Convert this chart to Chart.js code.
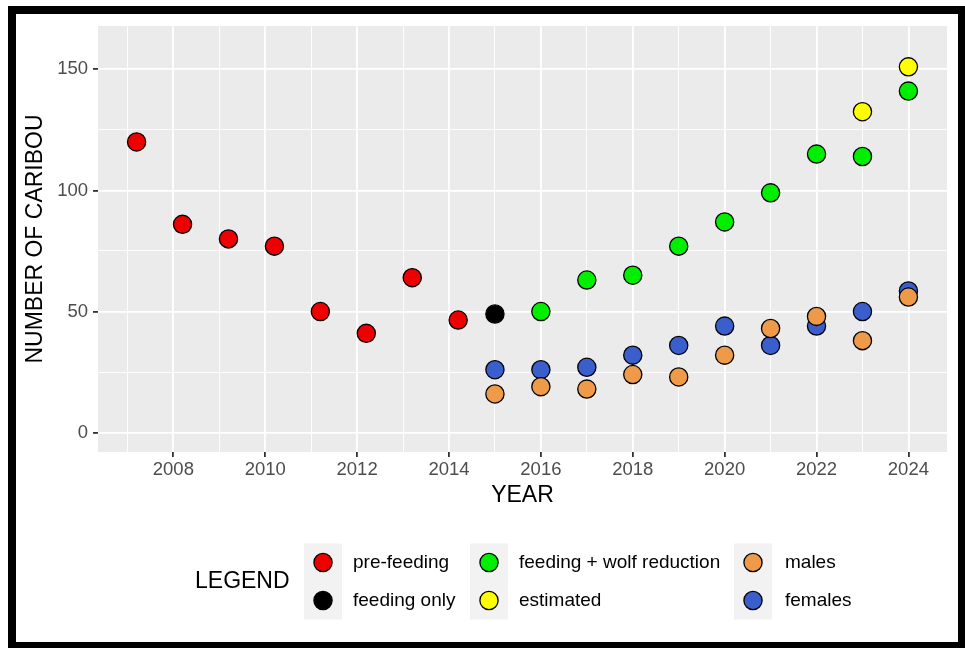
<!DOCTYPE html>
<html>
<head>
<meta charset="utf-8">
<script src="https://cdn.jsdelivr.net/npm/chart.js@4.4.0/dist/chart.umd.min.js"></script>
<style>
  html, body { margin: 0; padding: 0; background: #fff; }
  canvas { display: block; }
</style>
</head>
<body>
<canvas id="caribouChart" width="965" height="648"></canvas>
<script>
// values
const preFeedingYears = [2007.2, 2008.2, 2009.2, 2010.2, 2011.2, 2012.2, 2013.2, 2014.2];
const preFeedingCounts = [120, 86, 80, 77, 50, 41, 64, 46.5];

const feedingOnlyYears = [2015];
const feedingOnlyCounts = [49];

const wolfYears = [2016, 2017, 2018, 2019, 2020, 2021, 2022, 2023, 2024];
const wolfCounts = [50, 63, 65, 77, 87, 99, 115, 114, 141];

const estimatedYears = [2023, 2024];
const estimatedCounts = [132.5, 151];

const sexYears = [2015, 2016, 2017, 2018, 2019, 2020, 2021, 2022, 2023, 2024];
const maleCounts = [16, 19, 18, 24, 23, 32, 43, 48, 38, 56];
const femaleCounts = [26, 26, 27, 32, 36, 44, 36, 44, 50, 58.5];

const xTickLabels = [2008, 2010, 2012, 2014, 2016, 2018, 2020, 2022, 2024];
const yTickLabels = [0, 50, 100, 150];

const FONT = "'Liberation Sans', Arial, sans-serif";
const POINT_R = 9.1;

function toPoints(xs, ys) {
    return xs.map((x, i) => ({ x: x, y: ys[i] }));
}

function series(label, color, xs, ys) {
    return {
        label: label,
        data: toPoints(xs, ys),
        backgroundColor: color,
        borderColor: '#000000',
        borderWidth: 1.3,
        pointRadius: POINT_R,
        pointHoverRadius: POINT_R
    };
}

// frame + grey panel
const backgroundPlugin = {
    id: 'ggBackground',
    beforeDraw(chart) {
        const { ctx, chartArea } = chart;
        ctx.save();
        ctx.fillStyle = '#ffffff';
        ctx.fillRect(0, 0, chart.width, chart.height);
        ctx.fillStyle = '#000000';
        ctx.fillRect(8, 6, chart.width - 8, chart.height - 6);
        ctx.fillStyle = '#ffffff';
        ctx.fillRect(16, 14, 942, 628);
        ctx.fillStyle = '#EBEBEB';
        ctx.fillRect(chartArea.left, chartArea.top, chartArea.right - chartArea.left, chartArea.bottom - chartArea.top);
        ctx.restore();
    }
};

// legend laid out like ggplot: 3 columns x 2 rows
const legendColumns = [[0, 1], [2, 3], [4, 5]];
const legendKeyX = [304, 470, 734];
const legendLabelX = [353, 519, 785];

const legendPlugin = {
    id: 'ggLegend',
    afterDraw(chart) {
        const ctx = chart.ctx;
        const sets = chart.data.datasets;
        ctx.save();
        ctx.textBaseline = 'middle';
        ctx.textAlign = 'left';
        ctx.fillStyle = '#000000';
        ctx.font = '23px ' + FONT;
        ctx.fillText('LEGEND', 195, 582);
        legendColumns.forEach((col, c) => {
            const keyX = legendKeyX[c];
            ctx.fillStyle = '#F2F2F2';
            ctx.fillRect(keyX, 543.5, 38, 76);
            col.forEach((di, r) => {
                const ds = sets[di];
                const cy = 562.5 + r * 38;
                ctx.beginPath();
                ctx.arc(keyX + 19, cy, POINT_R, 0, Math.PI * 2);
                ctx.fillStyle = ds.backgroundColor;
                ctx.fill();
                ctx.lineWidth = 1.3;
                ctx.strokeStyle = '#000000';
                ctx.stroke();
                ctx.fillStyle = '#000000';
                ctx.font = '19px ' + FONT;
                ctx.fillText(ds.label, legendLabelX[c], cy);
            });
        });
        ctx.restore();
    }
};

const ctx = document.getElementById('caribouChart').getContext('2d');

new Chart(ctx, {
    type: 'scatter',
    data: {
        datasets: [
            series('pre-feeding', '#EE0000', preFeedingYears, preFeedingCounts),
            series('feeding only', '#000000', feedingOnlyYears, feedingOnlyCounts),
            series('feeding + wolf reduction', '#00EE00', wolfYears, wolfCounts),
            series('estimated', '#FFFF00', estimatedYears, estimatedCounts),
            series('males', '#EE9A49', sexYears, maleCounts),
            series('females', '#3A5FCD', sexYears, femaleCounts)
        ]
    },
    options: {
        responsive: false,
        animation: false,
        devicePixelRatio: 1,
        layout: { padding: { top: 26, right: 18, left: 0, bottom: 0 } },
        plugins: {
            legend: { display: false },
            tooltip: { enabled: false }
        },
        scales: {
            x: {
                type: 'linear',
                min: 2006.36,
                max: 2024.84,
                afterFit: (scale) => { scale.height = 196; },
                border: { display: false },
                grid: {
                    color: '#ffffff',
                    lineWidth: (c) => xTickLabels.includes(c.tick && c.tick.value) ? 1.8 : 0.9,
                    tickColor: (c) => xTickLabels.includes(c.tick && c.tick.value) ? '#333333' : 'rgba(0,0,0,0)',
                    tickWidth: 1.8,
                    tickLength: 5
                },
                ticks: {
                    stepSize: 1,
                    includeBounds: false,
                    maxTicksLimit: 40,
                    autoSkip: false,
                    maxRotation: 0,
                    padding: 2,
                    color: '#4D4D4D',
                    font: { size: 18.5, family: FONT },
                    callback: (v) => xTickLabels.includes(v) ? String(v) : ''
                },
                title: {
                    display: true,
                    text: 'YEAR',
                    color: '#000000',
                    font: { size: 23, family: FONT },
                    padding: { top: 0, bottom: 139 }
                }
            },
            y: {
                type: 'linear',
                min: -7.97,
                max: 167.87,
                afterFit: (scale) => { scale.width = 98; },
                border: { display: false },
                grid: {
                    color: '#ffffff',
                    lineWidth: (c) => yTickLabels.includes(c.tick && c.tick.value) ? 1.8 : 0.9,
                    tickColor: (c) => yTickLabels.includes(c.tick && c.tick.value) ? '#333333' : 'rgba(0,0,0,0)',
                    tickWidth: 1.8,
                    tickLength: 5
                },
                ticks: {
                    stepSize: 25,
                    includeBounds: false,
                    maxTicksLimit: 20,
                    padding: 5,
                    color: '#4D4D4D',
                    font: { size: 18.5, family: FONT },
                    callback: (v) => yTickLabels.includes(v) ? String(v) : ''
                },
                title: {
                    display: true,
                    text: 'NUMBER OF CARIBOU',
                    color: '#000000',
                    font: { size: 23, family: FONT },
                    padding: { top: 22, bottom: 0 }
                }
            }
        }
    },
    plugins: [backgroundPlugin, legendPlugin]
});
</script>
</body>
</html>
